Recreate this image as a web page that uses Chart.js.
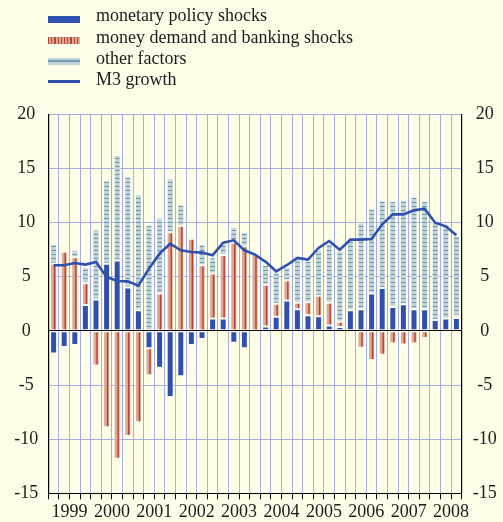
<!DOCTYPE html>
<html>
<head>
<meta charset="utf-8">
<script src="https://cdn.jsdelivr.net/npm/chart.js@4.4.1/dist/chart.umd.min.js"></script>
<style>
  html, body { margin: 0; padding: 0; background: #fefde8; }
  #wrap { position: relative; width: 503px; height: 522px; overflow: hidden; }
  #chart { position: absolute; left: 0; top: 0; }
  .sw { position: absolute; left: 48px; width: 32px; }
  .lbl { position: absolute; left: 96px; font-family: 'Liberation Serif', serif; font-size: 18px; line-height: 20px; color: #1c1c1c; white-space: nowrap; }
</style>
</head>
<body>
<div id="wrap">
  <canvas id="chart" width="503" height="522"></canvas>
  <div class="sw" style="top:16px;height:6.5px;background:#2f51ad;"></div>
  <div class="lbl" style="top:5.4px;">monetary policy shocks</div>
  <div class="sw" style="top:37px;height:6.5px;background:repeating-linear-gradient(90deg,#b8402f 0 1.2px,#dca794 1.2px 3.2px);"></div>
  <div class="lbl" style="top:26.9px;">money demand and banking shocks</div>
  <div class="sw" style="top:58px;height:6.5px;background:linear-gradient(#bfd2d9 0 2.2px,#6f9aa8 2.2px 3.6px,#bfd2d9 3.6px);"></div>
  <div class="lbl" style="top:47.9px;">other factors</div>
  <div class="sw" style="top:79.5px;height:3px;background:#2f51ad;"></div>
  <div class="lbl" style="top:69.4px;">M3 growth</div>
</div>
<script>
// year labels, one per 4 quarters (data ends in 2008 Q3)
const years = ['1999', '2000', '2001', '2002', '2003', '2004', '2005', '2006', '2007', '2008'];
const quarters = [];
years.forEach(y => ['Q1', 'Q2', 'Q3', 'Q4'].forEach(q => quarters.push(y + q)));
quarters.length = 39;

// contributions to annual M3 growth (percentage points)
const monetaryShocks = [-2.1, -1.5, -1.3, 2.4, 2.9, 6.2, 6.5, 4.0, 1.9, -1.6,
  -3.4, -6.1, -4.2, -1.3, -0.75, 1.15, 1.15, -1.1, -1.6, -0.1,
  0.4, 1.3, 2.8, 2.0, 1.45, 1.35, 0.5, 0.35, 1.9, 2.0,
  3.45, 3.95, 2.2, 2.45, 2.0, 2.0, 1.0, 1.15, 1.2];
const demandShocks = [6.2, 7.3, 6.8, 2.0, -3.2, -8.9, -11.8, -9.7, -8.45, -2.5,
  3.45, 9.1, 9.7, 8.5, 6.05, 4.15, 5.85, 8.15, 7.8, 7.1,
  3.85, 1.2, 1.85, 0.6, 1.2, 1.9, 2.1, 0.5, 0, -1.55,
  -2.7, -2.2, -1.15, -1.25, -1.15, -0.65, -0.12, -0.22, 0.2];
const otherFactors = [1.85, 0, 0.7, 1.5, 6.45, 7.7, 9.75, 10.25, 10.7, 9.8,
  7.0, 5.0, 1.95, 0, 1.95, 1.5, 1.05, 1.45, 1.3, 0,
  1.85, 2.9, 1.25, 4.25, 3.85, 4.2, 5.5, 6.55, 6.5, 8.0,
  7.85, 8.1, 9.8, 9.65, 10.4, 10.0, 9.05, 8.7, 7.4];
const m3Growth = [6.06, 6.06, 6.27, 6.12, 6.36, 4.98, 4.6, 4.57, 4.18, 5.75,
  7.13, 8.05, 7.44, 7.29, 7.23, 6.98, 8.15, 8.36, 7.44, 7.04,
  6.37, 5.5, 6.06, 6.74, 6.58, 7.66, 8.3, 7.5, 8.43, 8.43,
  8.49, 9.84, 10.76, 10.76, 11.13, 11.28, 9.99, 9.65, 8.82];

const yTicks = [20, 15, 10, 5, 0, -5, -10, -15];

const BLUE = '#2f51ad';
const SALMON = '#dca794';
const RED_STRIPE = '#b8402f';
const GRID = '#a6abe4';

// horizontal dash fill for "other factors"
function makeOtherPattern() {
  const c = document.createElement('canvas');
  c.width = 4; c.height = 4;
  const g = c.getContext('2d');
  g.fillStyle = '#c2d4db';
  g.fillRect(0, 0, 4, 4);
  g.fillStyle = '#6f9aa8';
  g.fillRect(0, 2, 4, 1);
  return g.createPattern(c, 'repeat');
}

// thin dark red line down the middle of each money-demand bar
const stripePlugin = {
  id: 'stripes',
  afterDatasetDraw(chart, args) {
    if (args.index !== 1) return;
    const ctx = chart.ctx;
    ctx.save();
    ctx.fillStyle = RED_STRIPE;
    args.meta.data.forEach(el => {
      const h = Math.abs(el.y - el.base);
      if (h < 3) return;
      const top = Math.min(el.y, el.base);
      ctx.fillRect(el.x + 0.3, top + 1, 1.4, h - 2);
    });
    ctx.restore();
  }
};

const ctx = document.getElementById('chart').getContext('2d');
const otherPattern = makeOtherPattern();

const barCommon = {
  type: 'bar',
  stack: 'contrib',
  order: 1,
  borderColor: 'rgba(255,255,255,0.9)',
  borderWidth: 1,
  borderSkipped: false,
  barPercentage: 0.66,
  categoryPercentage: 1.0
};

Chart.defaults.font.family = "'Liberation Serif', serif";
Chart.defaults.color = '#1c1c1c';

new Chart(ctx, {
  data: {
    labels: quarters,
    datasets: [
      Object.assign({}, barCommon, { label: 'monetary policy shocks', data: monetaryShocks, backgroundColor: BLUE }),
      Object.assign({}, barCommon, { label: 'money demand and banking shocks', data: demandShocks, backgroundColor: SALMON }),
      Object.assign({}, barCommon, { label: 'other factors', data: otherFactors, backgroundColor: otherPattern }),
      {
        type: 'line',
        label: 'M3 growth',
        data: m3Growth,
        stack: 'm3',
        order: 0,
        borderColor: BLUE,
        borderWidth: 2.6,
        pointRadius: 0,
        tension: 0,
        fill: false
      }
    ]
  },
  options: {
    responsive: false,
    animation: false,
    devicePixelRatio: 1,
    layout: { padding: { top: 114.3, left: 0, right: 0, bottom: 0 } },
    plugins: { legend: { display: false }, tooltip: { enabled: false } },
    scales: {
      x: {
        type: 'category',
        stacked: true,
        offset: true,
        grid: { offset: true, color: GRID, tickColor: '#000', tickLength: 6, lineWidth: 1 },
        border: { color: '#000', width: 1 },
        ticks: {
          autoSkip: false,
          maxRotation: 0,
          minRotation: 0,
          padding: 2,
          labelOffset: 5.3,
          font: { size: 18 },
          color: '#1c1c1c',
          callback: (v, i) => (i % 4 === 1 ? years[(i - 1) / 4] : '')
        },
        afterFit: s => { s.height = 28.7; }
      },
      y: {
        position: 'left',
        stacked: true,
        min: -15,
        max: 20,
        afterBuildTicks: s => { s.ticks = yTicks.map(v => ({ value: v })); },
        grid: {
          color: c => (c.tick && c.tick.value === 0 ? '#000' : GRID),
          lineWidth: 1,
          drawTicks: false
        },
        border: { color: '#000', width: 1.2 },
        ticks: { font: { size: 18 }, padding: 10, crossAlign: 'center', color: '#1c1c1c' },
        afterFit: s => { s.width = 48.3; }
      },
      y2: {
        position: 'right',
        min: -15,
        max: 20,
        afterBuildTicks: s => { s.ticks = yTicks.map(v => ({ value: v })); },
        grid: { drawOnChartArea: false, drawTicks: false },
        border: { color: '#000', width: 1.2 },
        ticks: { font: { size: 18 }, padding: 11, crossAlign: 'center', color: '#1c1c1c' },
        afterFit: s => { s.width = 41.3; }
      }
    }
  },
  plugins: [stripePlugin]
});
</script>
</body>
</html>
